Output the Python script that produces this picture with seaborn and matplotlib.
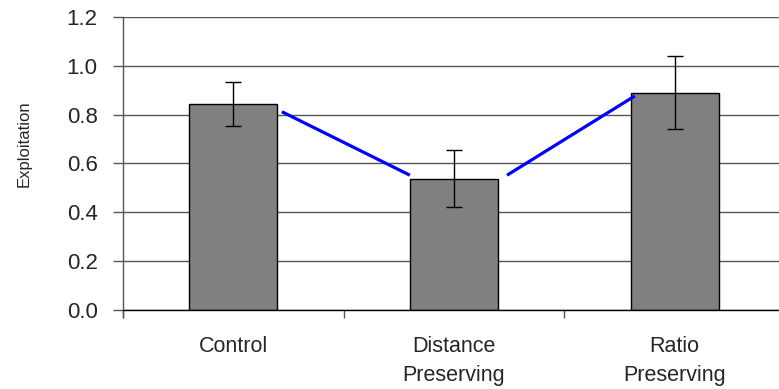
import matplotlib
matplotlib.use("Agg")
import matplotlib.pyplot as plt
import seaborn as sns
import pandas as pd
from matplotlib.ticker import FixedLocator, FormatStrFormatter

# Condition means and standard errors
categories = ["Control", "Distance\nPreserving", "Ratio\nPreserving"]
means = [0.843, 0.537, 0.890]
errors = [0.090, 0.117, 0.149]

# Blue connector segments between neighbouring bars (x in category units)
seg_x0 = [0.22, 1.24]
seg_x1 = [0.80, 1.82]
seg_y0 = [0.812, 0.552]
seg_y1 = [0.552, 0.877]

y_ticks = [0.0, 0.2, 0.4, 0.6, 0.8, 1.0, 1.2]

sns.set_style("white")
plt.rcParams["font.family"] = ["Liberation Sans", "DejaVu Sans"]

df = pd.DataFrame({"condition": categories, "exploitation": means})

fig = plt.figure(figsize=(7.79, 3.89), dpi=100)
ax = fig.add_axes([0.1579, 0.2031, 1.0077 - 0.1579, 0.9563 - 0.2031])

# horizontal grid behind bars
ax.set_axisbelow(True)
ax.yaxis.grid(True, color="#555555", linewidth=1.0)
ax.xaxis.grid(False)

sns.barplot(data=df, x="condition", y="exploitation", ax=ax, color="#808080",
            saturation=1, width=0.40, edgecolor="black", linewidth=1.0,
            errorbar=None, zorder=2)

xpos = list(range(len(categories)))
ax.errorbar(xpos, means, yerr=errors, fmt="none", ecolor="black",
            elinewidth=1.0, capsize=6, capthick=1.0, zorder=3)

for x0, x1, y0, y1 in zip(seg_x0, seg_x1, seg_y0, seg_y1):
    ax.plot([x0, x1], [y0, y1], color="#0000ff", linewidth=2.3,
            solid_capstyle="butt", zorder=4)

ax.set_xlim(-0.5, 2.5)
ax.set_ylim(0, 1.2)

# y axis
ax.yaxis.set_major_locator(FixedLocator(y_ticks))
ax.yaxis.set_major_formatter(FormatStrFormatter("%.1f"))
ax.tick_params(axis="y", which="major", direction="out", length=7.2,
               width=1.0, color="#555555", pad=11, labelsize=16, left=True)

# x axis: ticks at category boundaries, labels centred on categories
ax.set_xticks([-0.5, 0.5, 1.5, 2.5])
ax.set_xticklabels([])
ax.set_xticks(xpos, minor=True)
ax.set_xticklabels(categories, minor=True, fontsize=15.5, linespacing=1.45)
ax.tick_params(axis="x", which="major", direction="out", length=6,
               width=1.0, color="#555555", bottom=True)
ax.tick_params(axis="x", which="minor", length=0, pad=19)

ax.set_xlabel("")
ax.set_ylabel("Exploitation", fontsize=12)
ax.yaxis.set_label_coords(-0.1495, 0.568)
ax.yaxis.label.set_va("center")

for side in ("top", "right"):
    ax.spines[side].set_visible(False)
ax.spines["left"].set_color("#555555")
ax.spines["left"].set_linewidth(1.0)
ax.spines["bottom"].set_color("black")
ax.spines["bottom"].set_linewidth(1.0)
ax.spines["left"].set_bounds(-0.027, 1.2)

fig.savefig("out.png", dpi=100, facecolor="white")
